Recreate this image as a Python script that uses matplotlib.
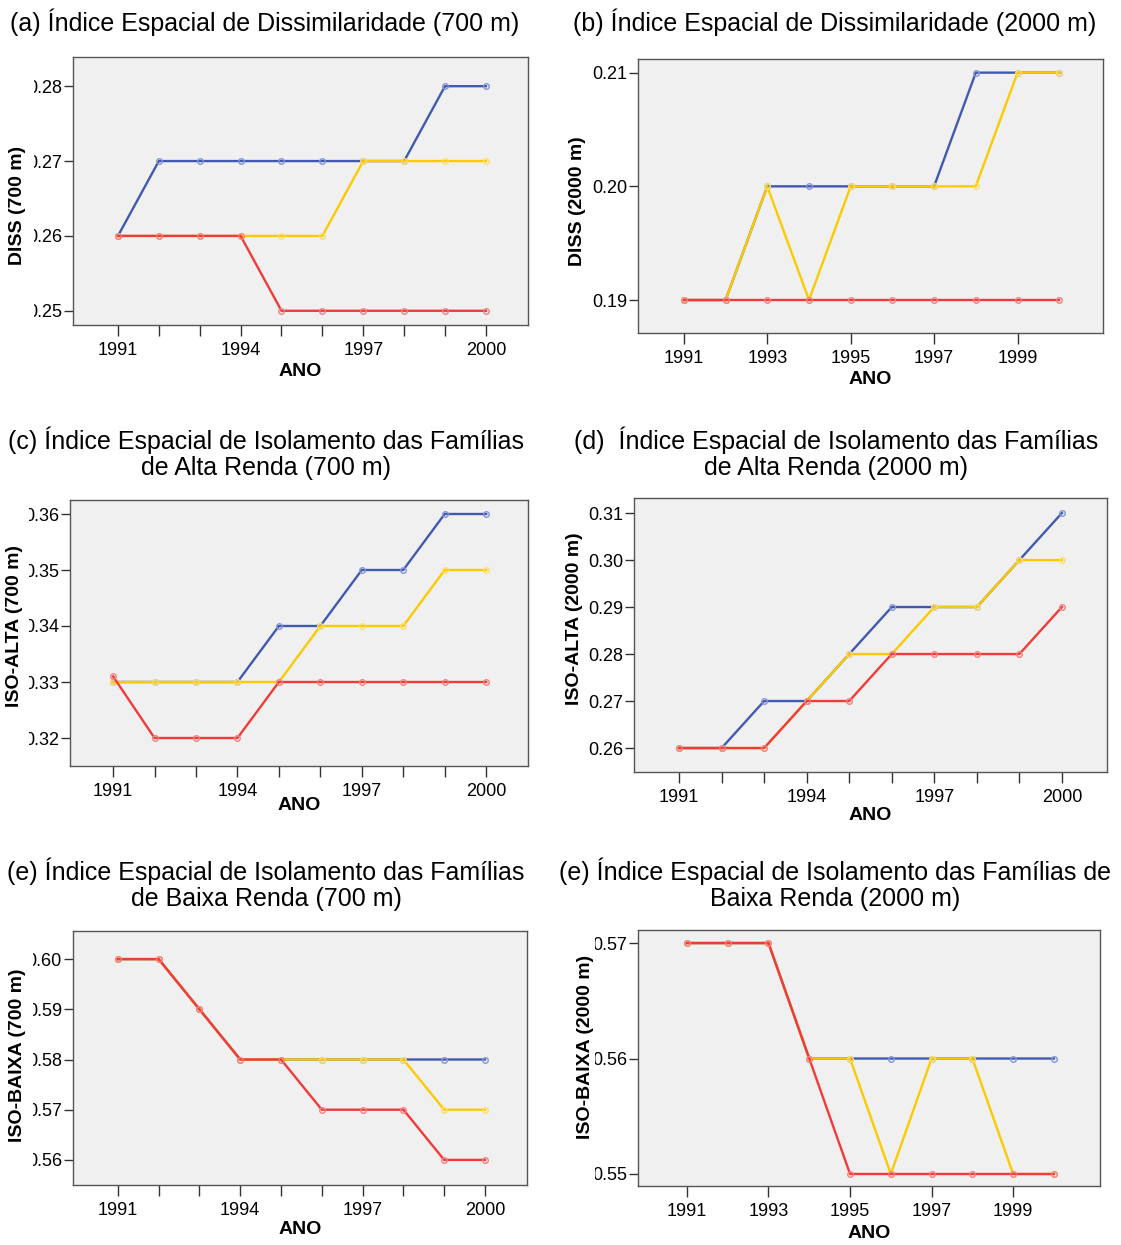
import matplotlib
matplotlib.use("Agg")
import matplotlib.pyplot as plt
from matplotlib.patches import Rectangle

plt.rcParams["font.family"] = ["Liberation Sans", "DejaVu Sans"]

W, H = 1121, 1245

years = [1991, 1992, 1993, 1994, 1995, 1996, 1997, 1998, 1999, 2000]

# (a) DISS 700 m
diss700_blue = [0.26, 0.27, 0.27, 0.27, 0.27, 0.27, 0.27, 0.27, 0.28, 0.28]
diss700_yellow = [0.26, 0.26, 0.26, 0.26, 0.26, 0.26, 0.27, 0.27, 0.27, 0.27]
diss700_red = [0.26, 0.26, 0.26, 0.26, 0.25, 0.25, 0.25, 0.25, 0.25, 0.25]

# (b) DISS 2000 m
diss2000_blue = [0.19, 0.19, 0.20, 0.20, 0.20, 0.20, 0.20, 0.21, 0.21, 0.21]
diss2000_yellow = [0.19, 0.19, 0.20, 0.19, 0.20, 0.20, 0.20, 0.20, 0.21, 0.21]
diss2000_red = [0.19, 0.19, 0.19, 0.19, 0.19, 0.19, 0.19, 0.19, 0.19, 0.19]

# (c) ISO-ALTA 700 m
alta700_blue = [0.33, 0.33, 0.33, 0.33, 0.34, 0.34, 0.35, 0.35, 0.36, 0.36]
alta700_yellow = [0.33, 0.33, 0.33, 0.33, 0.33, 0.34, 0.34, 0.34, 0.35, 0.35]
alta700_red = [0.331, 0.32, 0.32, 0.32, 0.33, 0.33, 0.33, 0.33, 0.33, 0.33]

# (d) ISO-ALTA 2000 m
alta2000_blue = [0.26, 0.26, 0.27, 0.27, 0.28, 0.29, 0.29, 0.29, 0.30, 0.31]
alta2000_yellow = [0.26, 0.26, 0.26, 0.27, 0.28, 0.28, 0.29, 0.29, 0.30, 0.30]
alta2000_red = [0.26, 0.26, 0.26, 0.27, 0.27, 0.28, 0.28, 0.28, 0.28, 0.29]

# (e) ISO-BAIXA 700 m
baixa700_blue = [0.60, 0.60, 0.59, 0.58, 0.58, 0.58, 0.58, 0.58, 0.58, 0.58]
baixa700_yellow = [0.60, 0.60, 0.59, 0.58, 0.58, 0.58, 0.58, 0.58, 0.57, 0.57]
baixa700_red = [0.60, 0.60, 0.59, 0.58, 0.58, 0.57, 0.57, 0.57, 0.56, 0.56]

# (e) ISO-BAIXA 2000 m
baixa2000_blue = [0.57, 0.57, 0.57, 0.56, 0.56, 0.56, 0.56, 0.56, 0.56, 0.56]
baixa2000_yellow = [0.57, 0.57, 0.57, 0.56, 0.56, 0.55, 0.56, 0.56, 0.55, 0.55]
baixa2000_red = [0.57, 0.57, 0.57, 0.56, 0.55, 0.55, 0.55, 0.55, 0.55, 0.55]

titles = [
    "(a) Índice Espacial de Dissimilaridade (700 m)",
    "(b) Índice Espacial de Dissimilaridade (2000 m)",
    "(c) Índice Espacial de Isolamento das Famílias\nde Alta Renda (700 m)",
    "(d)  Índice Espacial de Isolamento das Famílias\nde Alta Renda (2000 m)",
    "(e) Índice Espacial de Isolamento das Famílias\nde Baixa Renda (700 m)",
    "(e) Índice Espacial de Isolamento das Famílias de\nBaixa Renda (2000 m)",
]
ylabels = ["DISS (700 m)", "DISS (2000 m)", "ISO-ALTA (700 m)",
           "ISO-ALTA (2000 m)", "ISO-BAIXA (700 m)", "ISO-BAIXA (2000 m)"]
yticks = [
    [0.25, 0.26, 0.27, 0.28],
    [0.19, 0.20, 0.21],
    [0.32, 0.33, 0.34, 0.35, 0.36],
    [0.26, 0.27, 0.28, 0.29, 0.30, 0.31],
    [0.56, 0.57, 0.58, 0.59, 0.60],
    [0.55, 0.56, 0.57],
]
series = [
    (diss700_blue, diss700_yellow, diss700_red),
    (diss2000_blue, diss2000_yellow, diss2000_red),
    (alta700_blue, alta700_yellow, alta700_red),
    (alta2000_blue, alta2000_yellow, alta2000_red),
    (baixa700_blue, baixa700_yellow, baixa700_red),
    (baixa2000_blue, baixa2000_yellow, baixa2000_red),
]
ylims = [(0.2481, 0.2839), (0.1871, 0.2112), (0.315, 0.3625),
         (0.2549, 0.3132), (0.5550, 0.6056), (0.54896, 0.57113)]
xlims = [(1989.9, 2001.03), (1989.9, 2001.05), (1989.96, 2001.01),
         (1989.94, 2001.06), (1989.9, 2001.03), (1989.8, 2001.13)]
every_year = [True, False, True, True, True, False]

# layout in pixels: axes box (left, top, right, bottom), title centre, ylabel centre, xlabel y
boxes = [(73, 57, 528, 325), (638, 59, 1103, 333), (70, 500, 528, 766),
         (634, 498, 1107, 772), (73, 931, 527, 1185), (638, 930, 1100, 1186)]
title_pos = [(265, 22), (835, 22), (266, 453), (836, 453), (266, 884), (835, 884)]
ylab_pos = [(18, 205), (578, 201), (15, 626), (575, 619), (18, 1055), (585, 1047)]
xlab_y = [372, 380, 806, 815, 1229, 1233]
# the source image has the tick labels cut off at these x positions (px)
mask_x = [(0, 34), None, (0, 29), None, (0, 33), (560, 595)]

colors = ["#4259b0", "#fcca00", "#f23a3a"]
mcolors = ["#8595d6", "#ffe066", "#f58080"]

fig = plt.figure(figsize=(W / 100, H / 100), dpi=100)

for i in range(6):
    l, t, r, b = boxes[i]
    ax = fig.add_axes([l / W, 1 - b / H, (r - l) / W, (b - t) / H])
    ax.set_facecolor("#f0f0f0")
    for s, c, mc in zip(series[i], colors, mcolors):
        ax.plot(years, s, color=c, lw=1.7, marker="o", ms=4, mfc="none",
                mec=mc, mew=1.0)
    ax.set_xlim(*xlims[i])
    ax.set_ylim(*ylims[i])
    if every_year[i]:
        ax.set_xticks(years)
        ax.set_xticklabels([str(y) if (y - 1991) % 3 == 0 else "" for y in years])
    else:
        ax.set_xticks(years[::2])
        ax.set_xticklabels([str(y) for y in years[::2]])
    ax.set_yticks(yticks[i])
    ax.set_yticklabels(["%.2f" % v for v in yticks[i]])
    ax.tick_params(axis="x", length=8, width=1, pad=4, labelsize=13, color="#333333")
    ax.tick_params(axis="y", length=6.5, width=1, pad=1.5, labelsize=13, color="#333333")
    for sp in ax.spines.values():
        sp.set_color("#555555")
        sp.set_linewidth(1.0)

    if mask_x[i] is not None:
        x0, x1 = mask_x[i]
        fig.add_artist(Rectangle((x0 / W, 1 - (b + 5) / H), (x1 - x0) / W,
                                 (b - t + 10) / H, transform=fig.transFigure,
                                 facecolor="white", edgecolor="none", zorder=5))

    tx, ty = title_pos[i]
    fig.text(tx / W, 1 - ty / H, titles[i], ha="center", va="center",
             fontsize=18, linespacing=1.1)
    yx, yy = ylab_pos[i]
    fig.text(yx / W, 1 - yy / H, ylabels[i], rotation=90, ha="center",
             va="center", fontsize=14, fontweight="bold", zorder=6)
    fig.text((l + r) / 2 / W, 1 - xlab_y[i] / H, "ANO", ha="center",
             va="center", fontsize=14, fontweight="bold")

fig.savefig("out.png", dpi=100)
